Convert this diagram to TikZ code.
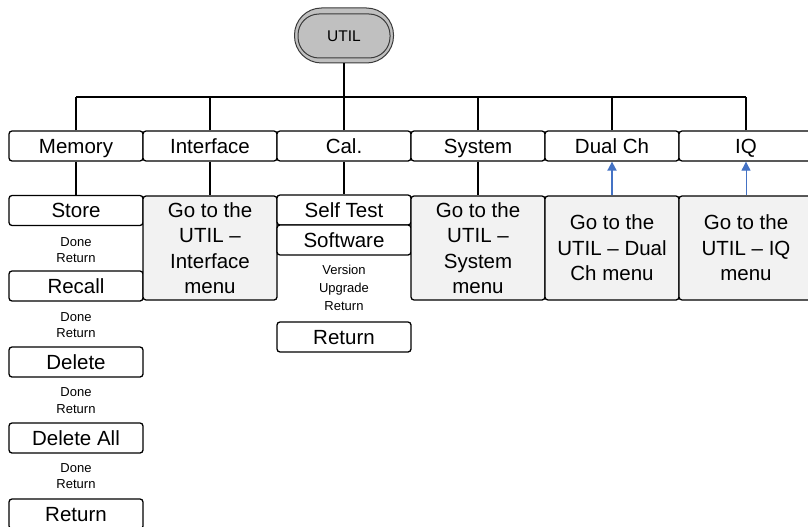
\documentclass[tikz,border=0pt]{standalone}
\usepackage{fontspec}
\setmainfont{Liberation Sans}
\usetikzlibrary{arrows.meta}
\definecolor{boxgray}{HTML}{F2F2F2}
\definecolor{utilgray}{HTML}{C0C0C0}
\definecolor{utilline}{HTML}{3A3A3A}
\definecolor{arrowblue}{HTML}{4472C4}
\begin{document}
\begin{tikzpicture}[x=1pt,y=-1pt,
  boxbase/.style={draw, line width=1.3pt, rounded corners=3pt, fill=white,
    minimum width=134pt, minimum height=30pt, inner sep=0pt},
  menubox/.style={boxbase, text height=14.7pt, text depth=0pt,
    font=\fontsize{20.5}{24}\selectfont},
  gobox/.style={boxbase, fill=boxgray, minimum height=104pt, align=center,
    font=\fontsize{20.5}{25.5}\selectfont},
  smalltext/.style={inner sep=0pt, align=center, font=\fontsize{13}{16.5}\selectfont},
  link/.style={line width=1.3pt},
  uparrow/.style={draw=arrowblue, -{Triangle[width=9pt,length=9pt]}}
]
\clip (0,0) rectangle (808,527);
\fill[white] (0,0) rectangle (808,527);

% UTIL key
\node[draw=utilline, line width=1pt, fill=utilgray, rounded corners=27pt,
  minimum width=99pt, minimum height=55pt, inner sep=0pt] (util) at (344,35.5) {};
\node[draw=utilline, line width=1pt, fill=utilgray, rounded corners=21pt,
  minimum width=92pt, minimum height=44pt, inner sep=0pt,
  text height=11.2pt, text depth=0pt,
  font=\fontsize{15.5}{18}\selectfont] (utilin) at (344,36) {UTIL};

% top row
\node[menubox] (mem) at (76,146) {Memory};
\node[menubox] (int) at (210,146) {Interface};
\node[menubox] (cal) at (344,146) {Cal.};
\node[menubox] (sys) at (478,146) {System};
\node[menubox] (dual) at (612,146) {Dual Ch};
\node[menubox] (iq) at (746,146) {IQ};

% bus
\coordinate (bus) at (344,97);
\draw[link] (util.south) -- (util.south |- bus);
\draw[link] (mem.north |- bus) -- (iq.north |- bus);
\foreach \n in {mem,int,cal,sys,dual,iq}
  \draw[link] (\n.north) -- (\n.north |- bus);

% Memory column
\node[menubox] (store) at (76,210.5) {Store};
\node[smalltext] (t1) at (76,250) {Done\\Return};
\node[menubox] (recall) at (76,286) {Recall};
\node[smalltext] (t2) at (76,325) {Done\\Return};
\node[menubox] (delete) at (76,362) {Delete};
\node[smalltext] (t3) at (76,400.5) {Done\\Return};
\node[menubox] (delall) at (76,438) {Delete All};
\node[smalltext] (t4) at (76,476) {Done\\Return};
\node[menubox] (memret) at (76,514) {Return};
\draw[link] (mem.south) -- (store.north);

% Interface column
\node[gobox] (intgo) at (210,248) {Go to the\\UTIL –\\Interface\\menu};
\draw[link] (int.south) -- (intgo.north);

% Cal column
\node[menubox] (selftest) at (344,210) {Self Test};
\node[menubox] (software) at (344,240) {Software};
\node[smalltext, font=\fontsize{13}{18}\selectfont] (t5) at (344,288) {Version\\Upgrade\\Return};
\node[menubox] (calret) at (344,337) {Return};
\draw[link] (cal.south) -- (selftest.north);

% System column
\node[gobox] (sysgo) at (478,248) {Go to the\\UTIL –\\System\\menu};
\draw[link] (sys.south) -- (sysgo.north);

% Dual Ch column
\node[gobox] (dualgo) at (612,248) {Go to the\\UTIL – Dual\\Ch menu};
\draw[uparrow, line width=1.8pt] (dualgo.north) -- (dual.south);

% IQ column
\node[gobox] (iqgo) at (746,248) {Go to the\\UTIL – IQ\\menu};
\draw[uparrow, line width=0.9pt] (iqgo.north) -- (iq.south);
\end{tikzpicture}
\end{document}
